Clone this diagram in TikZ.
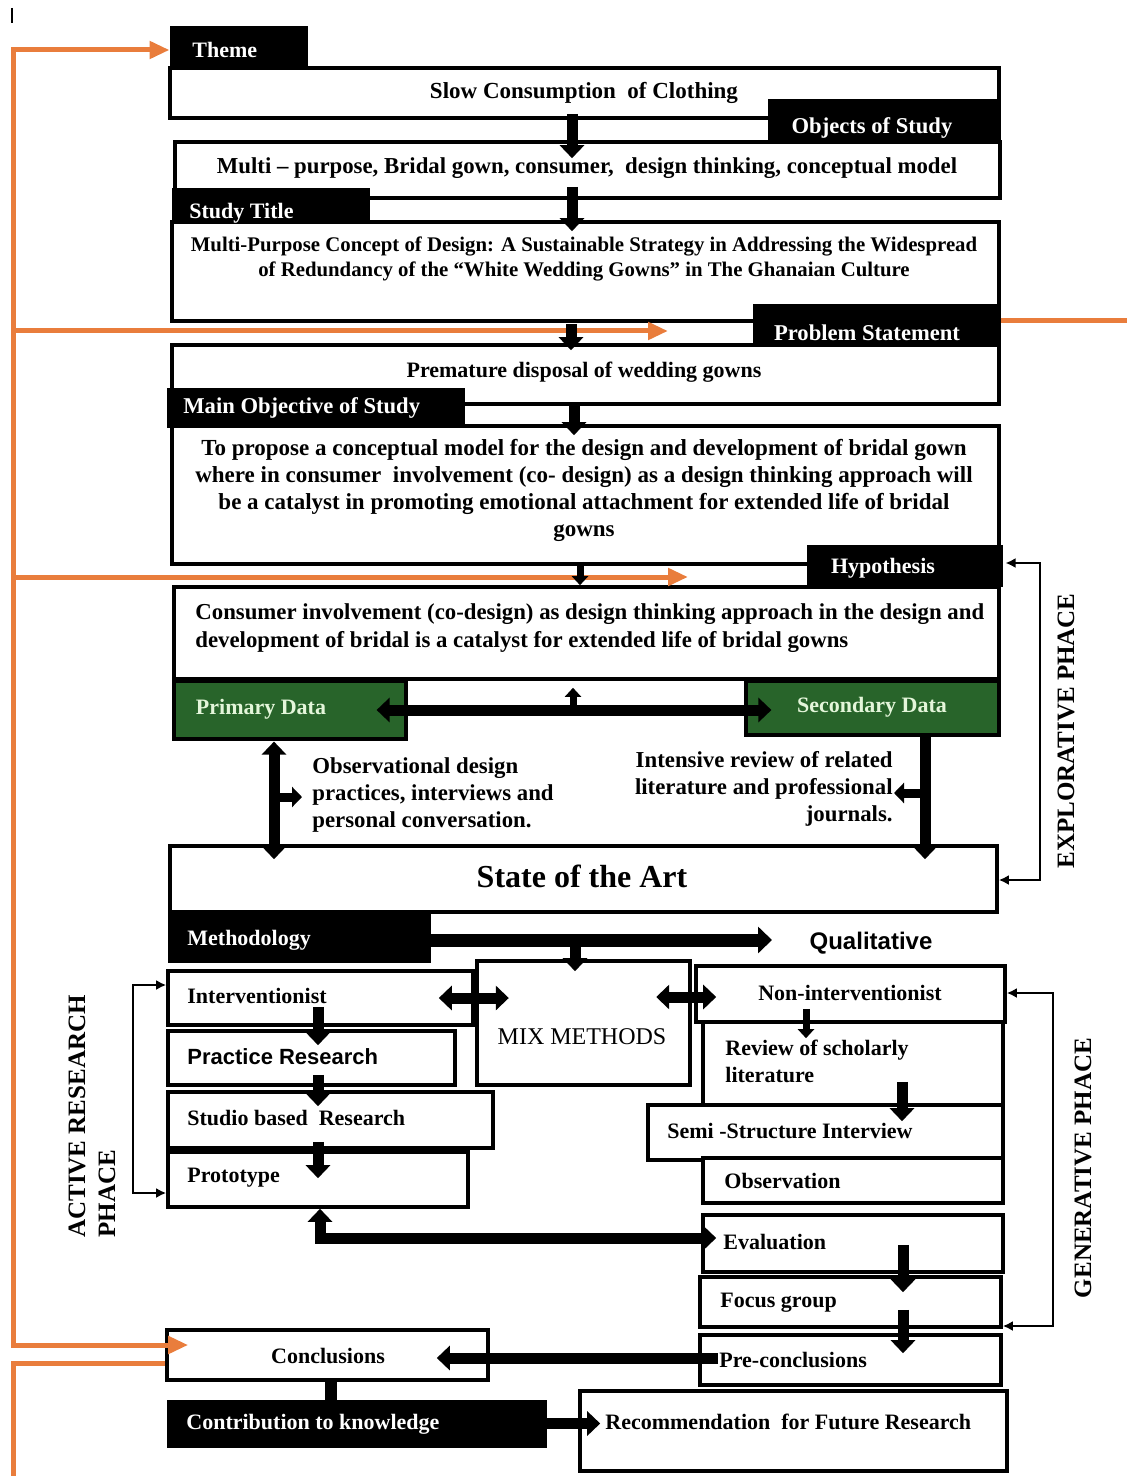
\documentclass[tikz,border=0pt]{standalone}
\usepackage{fontspec}
\setmainfont{Liberation Serif}
\newfontfamily\sansf{Liberation Sans}
\usetikzlibrary{arrows.meta,fit,calc}
\definecolor{orng}{RGB}{233,125,60}
\definecolor{gdark}{RGB}{40,100,42}
\definecolor{glight}{RGB}{228,246,218}
\newcommand\mkbox[6]{\node[#1, fit={(#3,#4)(#5,#6)}] (#2) {};}
\begin{document}
\begin{tikzpicture}[x=0.5pt,y=-0.5pt,
  box/.style={draw=black, line width=1.8pt, fill=white, inner sep=0pt, rectangle},
  blk/.style={draw=black, line width=0.5pt, fill=black, inner sep=0pt, rectangle},
  grn/.style={draw=black, line width=1.6pt, fill=gdark, inner sep=0pt, rectangle},
  lbl/.style={font=\fontsize{11}{13.5}\selectfont\bfseries, inner sep=0pt},
  para/.style={font=\fontsize{11.4}{13.6}\selectfont\bfseries, inner sep=0pt},
  wlbl/.style={lbl, text=white},
  glbl/.style={lbl, text=glight},
  sans/.style={font=\fontsize{11}{13.5}\selectfont\sansf\bfseries, inner sep=0pt},
  rot/.style={font=\fontsize{12.5}{15}\selectfont\bfseries, inner sep=0pt, rotate=90},
  fat/.style={line width=5.5pt, -{Triangle[width=12pt,length=6.5pt]}},
  fatboth/.style={line width=5.5pt, {Triangle[width=12pt,length=6.5pt]}-{Triangle[width=12pt,length=6.5pt]}},
  fatsm/.style={line width=4.5pt, -{Triangle[width=10pt,length=5pt]}},
  midarr/.style={line width=3.5pt, -{Triangle[width=8pt,length=4.5pt]}},
  thinbr/.style={line width=1pt, {Latex[length=5pt,width=5pt]}-{Latex[length=5pt,width=5pt]}},
  orarr/.style={draw=orng, line width=2.5pt, -{Triangle[width=8.5pt,length=10pt]}},
  orboth/.style={draw=orng, line width=2.5pt, {Triangle[width=8.5pt,length=10pt]}-{Triangle[width=8.5pt,length=10pt]}},
  orline/.style={draw=orng, line width=2.5pt}
]
\fill[white] (0,0) rectangle (1127,1476);
\useasboundingbox (0,0) rectangle (1127,1476);

% ---------- boxes ----------
\mkbox{box}{A}{170}{68}{999}{118}
\mkbox{box}{B}{175}{142}{1000}{198}
\mkbox{box}{C}{172}{222}{999}{321}
\mkbox{box}{D}{172}{345}{999}{404}
\mkbox{box}{E}{172}{426}{999}{564}
\mkbox{box}{F}{174}{587}{999}{679}
\mkbox{box}{State}{170}{846}{997}{912}
\mkbox{box}{Interv}{168}{971}{473}{1025}
\mkbox{box}{Pract}{168}{1031}{455}{1085}
\mkbox{box}{Studio}{168}{1092}{493}{1148}
\mkbox{box}{Proto}{168}{1152}{468}{1207}
\mkbox{box}{Mix}{477}{961}{690}{1085}
\mkbox{box}{NonInt}{696}{966}{1005}{1022}
\mkbox{box}{Review}{703}{1022}{1003}{1105}
\mkbox{box}{Semi}{648}{1105}{1003}{1160}
\mkbox{box}{Obs}{703}{1158}{1003}{1203}
\mkbox{box}{Eval}{703}{1215}{1003}{1272}
\mkbox{box}{Focus}{700}{1277}{1001}{1327}
\mkbox{box}{Pre}{700}{1335}{1001}{1385}
\mkbox{box}{Concl}{167}{1330}{488}{1380}
\mkbox{box}{Recom}{580}{1391}{1007}{1471}

% ---------- tabs ----------
\mkbox{blk}{tTheme}{170}{27}{307}{68}
\mkbox{blk}{tObj}{768}{100}{1000}{142}
\mkbox{blk}{tTitle}{172}{189}{369}{223}
\mkbox{blk}{tProb}{753}{305}{1000}{347}
\mkbox{blk}{tMain}{167}{388}{464}{427}
\mkbox{blk}{tHyp}{807}{545}{1002}{586}
\mkbox{blk}{tMeth}{168}{912}{430}{962}
\mkbox{blk}{Contr}{167}{1400}{546}{1447}
\mkbox{grn}{Prim}{174}{681}{406}{739}
\mkbox{grn}{Sec}{746}{681}{999}{735}

% ---------- texts ----------
\node[wlbl, anchor=west] (xTheme) at (192,50) {Theme};
\node[lbl, font=\fontsize{11.5}{13.5}\selectfont\bfseries] (xA) at (584,93) {Slow Consumption\ \ of Clothing};
\node[wlbl, font=\fontsize{11.3}{13.5}\selectfont\bfseries] (xObj) at (872,128) {Objects of Study};
\node[para] (xB) at (587,168) {Multi -- purpose, Bridal gown, consumer,\ \ design thinking, conceptual model};
\node[wlbl, anchor=west] (xTitle) at (189,213) {Study Title};
\node[lbl, font=\fontsize{10.4}{12.5}\selectfont\bfseries, align=center] (xC) at (584,259) {Multi-Purpose Concept of Design: A Sustainable Strategy in Addressing the Widespread\\ of Redundancy of the “White Wedding Gowns” in The Ghanaian Culture};
\node[wlbl, font=\fontsize{11.3}{13.5}\selectfont\bfseries] (xProb) at (867,333) {Problem Statement};
\node[lbl] (xD) at (584,372) {Premature disposal of wedding gowns};
\node[wlbl, font=\fontsize{11.3}{13.5}\selectfont\bfseries, anchor=west] (xMain) at (183,408) {Main Objective of Study};
\node[para, font=\fontsize{11.5}{13.5}\selectfont\bfseries, align=center] (xE) at (584,490) {To propose a conceptual model for the design and development of bridal gown\\ where in consumer\ \ involvement (co- design) as a design thinking approach will\\ be a catalyst in promoting emotional attachment for extended life of bridal\\ gowns};
\node[wlbl] (xHyp) at (883,568) {Hypothesis};
\node[para, anchor=west, align=left, font=\fontsize{11.4}{14}\selectfont\bfseries] (xF) at (195,628) {Consumer involvement (co-design) as design thinking approach in the design and\\ development of bridal is a catalyst for extended life of bridal gowns};
\node[glbl] (xPrim) at (261,709) {Primary Data};
\node[glbl] (xSec) at (872,707) {Secondary Data};
\node[para, anchor=west, align=left] (xObsT) at (312,795) {Observational design\\ practices, interviews and\\ personal conversation.};
\node[para, anchor=east, align=right] (xIntT) at (893,789) {Intensive review of related\\ literature and professional\\ journals.};
\node[lbl, font=\fontsize{16}{18}\selectfont\bfseries] (xState) at (582,876) {State of the Art};
\node[wlbl, anchor=west] (xMeth) at (187,940) {Methodology};
\node[sans, font=\fontsize{12}{14}\selectfont\sansf\bfseries] (xQual) at (871,943) {Qualitative};
\node[lbl, font=\fontsize{12}{14}\selectfont, text=black] (xMix) at (582,1037) {MIX METHODS};
\node[lbl, anchor=west] (xInterv) at (187,996) {Interventionist};
\node[sans, anchor=west] (xPract) at (187,1057) {Practice Research};
\node[lbl, anchor=west] (xStudio) at (187,1118) {Studio based\ \ Research};
\node[lbl, anchor=west] (xProto) at (187,1178) {Prototype};
\node[lbl] (xNonInt) at (850,993) {Non-interventionist};
\node[lbl, anchor=west, align=left] (xReview) at (725,1061) {Review of scholarly\\ literature};
\node[lbl, anchor=west] (xSemi) at (667,1131) {Semi\ -Structure Interview};
\node[lbl, anchor=west] (xObs) at (724,1181) {Observation};
\node[lbl, anchor=west] (xEval) at (723,1242) {Evaluation};
\node[lbl, anchor=west] (xFocus) at (720,1303) {Focus group};
\node[lbl, anchor=west] (xPre) at (719,1360) {Pre-conclusions};
\node[lbl] (xConcl) at (328,1356) {Conclusions};
\node[wlbl, anchor=west] (xContr) at (186,1424) {Contribution to knowledge};
\node[lbl, anchor=west] (xRecom) at (605,1422) {Recommendation\ \ for Future Research};
\node[rot] (xExplo) at (1066,731) {EXPLORATIVE PHACE};
\node[rot] (xGener) at (1083,1168) {GENERATIVE PHACE};
\node[rot, anchor=west, align=left] (xActive) at (92,1238) {ACTIVE RESEARCH\\ PHACE};

% ---------- named coordinates ----------
\coordinate (cur1) at (12,8);
\coordinate (cur2) at (12,23);
\coordinate (o1) at (13,50);
\coordinate (o2) at (13,1345);
\coordinate (o3) at (13,331);
\coordinate (o3e) at (668,331);
\coordinate (o4) at (13,577);
\coordinate (o4e) at (688,577);
\coordinate (orR) at (1127,321);
\coordinate (o5a) at (13,1363);
\coordinate (o5b) at (13,1476);
\coordinate (c571) at (571,0);
\coordinate (c572) at (572,0);
\coordinate (c574) at (574,0);
\coordinate (c580) at (580,0);
\coordinate (c573) at (573,0);
\coordinate (c274) at (274,0);
\coordinate (c925) at (925,0);
\coordinate (obsj) at (274,797);
\coordinate (secj) at (925,793);
\coordinate (ex1) at (1040,563);
\coordinate (ex2) at (1040,880);
\coordinate (qend) at (772,940);
\coordinate (c575) at (575,940);
\coordinate (c318) at (318,0);
\coordinate (c320) at (320,0);
\coordinate (ab1) at (133,985);
\coordinate (ab2) at (133,1193);
\coordinate (c806) at (806,0);
\coordinate (c902) at (902,0);
\coordinate (c903) at (903,0);
\coordinate (peY) at (0,1238);
\coordinate (gb1) at (1053,993);
\coordinate (gb2) at (1053,1326);
\coordinate (c331) at (331,0);

% ---------- orange loop ----------
\draw[line width=0.7pt] (cur1) -- (cur2);
\draw[orboth] (tTheme.west |- o1) -- (o1) -- (o2) -- ($(Concl.west |- o2)+(23,0)$);
\draw[orarr] (o3) -- (o3e);
\draw[orarr] (o4) -- (o4e);
\draw[orline] (tProb.east |- orR) -- (orR);
\draw[orline] (Concl.west |- o5a) -- (o5a) -- (o5b);

% ---------- black connectors ----------
\draw[fat] ($(A.south -| c572)+(0,-6)$) -- ($(B.north -| c572)+(0,18)$);
\draw[fat] ($(B.south -| c572)+(0,-13)$) -- ($(C.north -| c572)+(0,11)$);
\draw[fat] ($(C.south -| c571)+(0,1)$) -- ($(D.north -| c571)+(0,7)$);
\draw[fat] (D.south -| c574) -- ($(E.north -| c574)+(0,11)$);
\draw[midarr] ($(E.south -| c580)+(0,-4)$) -- (F.north -| c580);
\draw[fatboth] ($(Prim.east)+(-31,0)$) -- ($(Prim.east -| Sec.west)+(27,0)$);
\draw[midarr] (Prim.east -| c573) -- ($(F.south -| c573)+(0,7)$);
\draw[fatboth] ($(Prim.south -| c274)+(0,1)$) -- ($(State.north -| c274)+(0,15)$);
\draw[fatsm] (obsj) -- ($(xObsT.west |- obsj)+(-10,0)$);
\draw[fat] (Sec.south -| c925) -- ($(State.north -| c925)+(0,15)$);
\draw[fatsm] (secj) -- ($(xIntT.east |- secj)+(1,0)$);
\draw[thinbr] ($(tHyp.east |- ex1)+(3,0)$) -- (ex1) -- (ex2) -- (State.east |- ex2);
\draw[line width=6.5pt, -{Triangle[width=13pt,length=7pt]}] (tMeth.east |- qend) -- (qend);
\draw[fat] (c575) -- ($(Mix.north -| c575)+(0,12)$);
\draw[fatboth] ($(Interv.east)+(-36,0)$) -- ($(Interv.east)+(34,0)$);
\draw[fatboth] ($(NonInt.west)+(-38,3)$) -- ($(NonInt.west)+(22,3)$);
\draw[fat] ($(Interv.south -| c318)+(0,-20)$) -- ($(Pract.north -| c318)+(0,16)$);
\draw[fat] ($(Pract.south -| c318)+(0,-12)$) -- ($(Studio.north -| c318)+(0,16)$);
\draw[fat] ($(Studio.south -| c318)+(0,-8)$) -- ($(Proto.north -| c318)+(0,28)$);
\draw[thinbr] (Interv.west |- ab1) -- (ab1) -- (ab2) -- (Proto.west |- ab2);
\draw[midarr] ($(NonInt.south -| c806)+(0,-15)$) -- ($(Review.north -| c806)+(0,18)$);
\draw[fat] ($(Review.south -| c902)+(0,-25)$) -- ($(Semi.north -| c902)+(0,18)$);
\draw[fatboth] (Proto.south -| c320) -- (c320 |- peY) -- ($(Eval.west |- peY)+(15,0)$);
\draw[fat] ($(Eval.south -| c903)+(0,-29)$) -- ($(Focus.north -| c903)+(0,17)$);
\draw[fat] ($(Focus.south -| c903)+(0,-19)$) -- ($(Pre.north -| c903)+(0,20)$);
\draw[fat] ($(Pre.west)+(20,-2)$) -- ($(Concl.east |- Pre.west)+(-53,-2)$);
\draw[thinbr] (NonInt.east |- gb1) -- (gb1) -- (gb2) -- (Focus.east |- gb2);
\draw[line width=6pt] (Concl.south -| c331) -- (Contr.north -| c331);
\draw[fat] (Contr.east) -- ($(Recom.west |- Contr.east)+(22,0)$);
\end{tikzpicture}
\end{document}
